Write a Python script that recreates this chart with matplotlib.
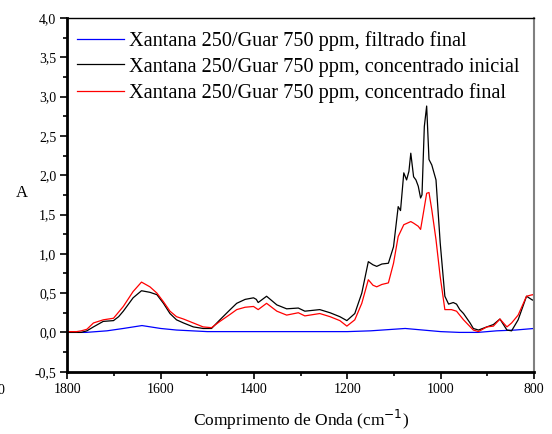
import matplotlib
matplotlib.use("Agg")
import matplotlib.pyplot as plt
from matplotlib.ticker import MultipleLocator, FuncFormatter

plt.rcParams['font.family'] = ['Liberation Serif', 'DejaVu Serif']

# ---- data ----
wn_inicial = [1800, 1780, 1770, 1758, 1744, 1723, 1701, 1690, 1680, 1659, 1641, 1623, 1608, 1594,
              1580, 1566, 1551, 1530, 1509, 1491, 1473, 1451, 1437, 1419, 1401, 1395, 1391, 1373,
              1351, 1330, 1305, 1291, 1259, 1237, 1216, 1201, 1184, 1169, 1155, 1145, 1137, 1126,
              1112, 1101, 1091, 1086, 1079, 1073, 1068, 1064, 1058, 1053, 1048, 1043, 1040, 1035,
              1030, 1025, 1019, 1010, 1001, 991, 983, 973, 966, 959, 951, 937, 930, 919, 901, 887,
              873, 858, 848, 834, 816, 803, 800]
a_inicial = [0.0, 0.0, 0.0, 0.02, 0.07, 0.14, 0.15, 0.2, 0.27, 0.44, 0.53, 0.51, 0.48, 0.37,
             0.24, 0.16, 0.12, 0.07, 0.05, 0.05, 0.16, 0.29, 0.37, 0.42, 0.44, 0.42, 0.38, 0.46,
             0.35, 0.30, 0.31, 0.27, 0.29, 0.25, 0.20, 0.15, 0.24, 0.50, 0.90, 0.86, 0.84, 0.87,
             0.88, 1.09, 1.60, 1.55, 2.03, 1.94, 2.05, 2.28, 1.98, 1.94, 1.86, 1.71, 1.75, 2.62,
             2.88, 2.20, 2.13, 1.94, 1.14, 0.46, 0.36, 0.38, 0.36, 0.29, 0.24, 0.12, 0.05, 0.03,
             0.07, 0.10, 0.17, 0.03, 0.02, 0.16, 0.46, 0.41, 0.42]

wn_final = [1800, 1780, 1770, 1758, 1744, 1723, 1701, 1680, 1659, 1641, 1623, 1608, 1594, 1580,
            1566, 1551, 1530, 1509, 1491, 1473, 1451, 1437, 1419, 1401, 1391, 1373, 1351, 1330,
            1305, 1291, 1259, 1237, 1216, 1201, 1184, 1169, 1155, 1145, 1137, 1126, 1112, 1101,
            1091, 1079, 1064, 1058, 1048, 1043, 1037, 1030, 1025, 1019, 1010, 1001, 991, 977,
            966, 951, 930, 919, 901, 887, 873, 858, 848, 834, 816, 803, 800]
a_final = [0.01, 0.01, 0.02, 0.04, 0.12, 0.16, 0.18, 0.33, 0.52, 0.64, 0.58, 0.50, 0.39, 0.27,
           0.20, 0.17, 0.12, 0.07, 0.06, 0.14, 0.23, 0.29, 0.32, 0.33, 0.29, 0.37, 0.27, 0.22,
           0.25, 0.21, 0.24, 0.20, 0.15, 0.08, 0.16, 0.37, 0.67, 0.60, 0.58, 0.61, 0.63, 0.88,
           1.22, 1.37, 1.41, 1.39, 1.35, 1.31, 1.52, 1.77, 1.78, 1.56, 1.18, 0.71, 0.29, 0.29,
           0.27, 0.16, 0.03, 0.01, 0.07, 0.08, 0.17, 0.07, 0.12, 0.22, 0.46, 0.48, 0.47]

wn_filtrado = [1800, 1760, 1715, 1680, 1640, 1600, 1566, 1500, 1450, 1300, 1200, 1150, 1076,
               1000, 960, 920, 880, 840, 800]
a_filtrado = [0.0, 0.0, 0.02, 0.05, 0.087, 0.05, 0.03, 0.01, 0.01, 0.01, 0.01, 0.02, 0.05,
              0.01, 0.0, 0.0, 0.02, 0.03, 0.05]

labels = ["Xantana 250/Guar 750 ppm, filtrado final",
          "Xantana 250/Guar 750 ppm, concentrado inicial",
          "Xantana 250/Guar 750 ppm, concentrado final"]

fig = plt.figure(figsize=(5.52, 4.34), dpi=100)
ax = fig.add_axes([67.3/552, 1-371.7/434, (534-67.3)/552, (371.7-18)/434])

l1, = ax.plot(wn_filtrado, a_filtrado, color='#0000ff', lw=0.9)
l2, = ax.plot(wn_inicial, a_inicial, color='black', lw=0.9)
l3, = ax.plot(wn_final, a_final, color='#ff0000', lw=0.9)

ax.set_xlim(1800, 800)
ax.set_ylim(-0.5, 4.0)
ax.xaxis.set_major_locator(MultipleLocator(200))
ax.xaxis.set_minor_locator(MultipleLocator(100))
ax.yaxis.set_major_locator(MultipleLocator(0.5))
ax.yaxis.set_minor_locator(MultipleLocator(0.25))
ax.yaxis.set_major_formatter(FuncFormatter(lambda v, p: f"{v:.1f}".replace('.', ',')))
ax.xaxis.set_major_formatter(FuncFormatter(lambda v, p: f"{int(v)}"))

ax.tick_params(axis='both', which='major', direction='out', length=5, width=1.2, labelsize=10, pad=3)
ax.tick_params(axis='both', which='minor', direction='out', length=3, width=1.2)
ax.tick_params(top=False, right=False)

ax.spines['left'].set_linewidth(2)
ax.spines['bottom'].set_linewidth(2)
ax.spines['top'].set_linewidth(1)
ax.spines['right'].set_linewidth(1.5)
ax.spines['right'].set_color('#808080')

ax.set_xlabel("Comprimento de Onda (cm$^{-1}$)", fontsize=12.5, labelpad=9)
fig.text(22/552, 1-193/434, "A", fontsize=12, ha='center', va='center')
fig.text(4/552, 1-390/434, "0", fontsize=10, ha='right', va='center')

leg = ax.legend([l1, l2, l3], labels, loc='upper left', bbox_to_anchor=(77/552, 1-31/434),
                bbox_transform=fig.transFigure, frameon=False, fontsize=14.6,
                handlelength=2.3, handletextpad=0.25, labelspacing=0.32,
                borderpad=0, borderaxespad=0)

fig.savefig("out.png", dpi=100)
